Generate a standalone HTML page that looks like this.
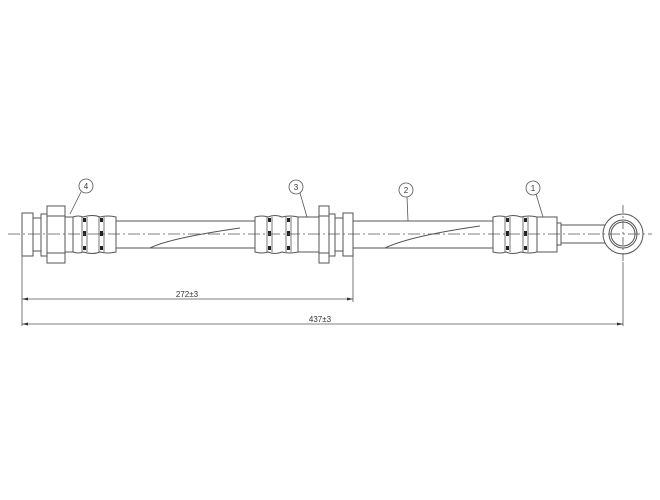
<!DOCTYPE html>
<html><head><style>html,body{margin:0;padding:0;background:#fff}svg{display:block}</style></head>
<body>
<svg width="660" height="500" viewBox="0 0 660 500" xmlns="http://www.w3.org/2000/svg" font-family="Liberation Sans, sans-serif">
<g fill="#fff" stroke="#555" stroke-width="1">
<!-- hose -->
<rect x="116" y="221" width="140" height="27"/>
<rect x="353" y="221" width="141" height="27"/>
<path d="M150 248 Q170 238 240 228" fill="none"/>
<path d="M385 248 Q410 236 480 226" fill="none"/>
<!-- left fitting -->
<rect x="22" y="213" width="11" height="43"/>
<rect x="33" y="218" width="8" height="33"/>
<rect x="41" y="214" width="6" height="42"/>
<rect x="47" y="206" width="18" height="57"/>
<line x1="47" y1="216" x2="65" y2="216"/><line x1="47" y1="253" x2="65" y2="253"/>
<rect x="65" y="217" width="8" height="35"/>
<path d="M73 217 Q78 215 83 217 Q93 214 100 217 Q108 215 116 217 L116 252 Q108 254 100 252 Q93 255 83 252 Q78 254 73 252 Z"/>
<!-- middle fitting -->
<path d="M255 217 Q262 215 268 217 Q275 214 282 217 Q290 215 298 217 L298 252 Q290 254 282 252 Q275 255 268 252 Q262 254 255 252 Z"/>
<rect x="298" y="217" width="21" height="35"/>
<rect x="319" y="206" width="10" height="57"/>
<line x1="319" y1="216" x2="329" y2="216"/><line x1="319" y1="253" x2="329" y2="253"/>
<rect x="329" y="214" width="6" height="42"/>
<rect x="335" y="218" width="8" height="33"/>
<rect x="343" y="213" width="10" height="43"/>
<!-- right fitting -->
<path d="M493 217 Q500 215 506 217 Q513 214 521 217 Q529 215 537 217 L537 252 Q529 254 521 252 Q513 255 506 252 Q500 254 493 252 Z"/>
<rect x="537" y="217" width="20" height="35"/>
<rect x="557" y="223" width="4" height="22"/>
<rect x="561" y="225" width="44" height="18"/>
<circle cx="623" cy="234" r="20"/>
<circle cx="623" cy="234" r="14"/>
<circle cx="623" cy="234" r="12"/>
</g>
<!-- groove bands -->
<g fill="#222">
<rect x="83" y="218" width="3" height="4"/><rect x="83" y="231" width="3" height="5"/><rect x="83" y="246" width="3" height="4"/>
<rect x="100" y="218" width="3" height="4"/><rect x="100" y="231" width="3" height="5"/><rect x="100" y="246" width="3" height="4"/>
<rect x="268" y="218" width="3" height="4"/><rect x="268" y="231" width="3" height="5"/><rect x="268" y="246" width="3" height="4"/>
<rect x="287" y="218" width="3" height="4"/><rect x="287" y="231" width="3" height="5"/><rect x="287" y="246" width="3" height="4"/>
<rect x="506" y="218" width="3" height="4"/><rect x="506" y="231" width="3" height="5"/><rect x="506" y="246" width="3" height="4"/>
<rect x="524" y="218" width="3" height="4"/><rect x="524" y="231" width="3" height="5"/><rect x="524" y="246" width="3" height="4"/>
</g>
<g stroke="#555" fill="none" stroke-width="0.8">
<line x1="82" y1="217" x2="82" y2="252"/><line x1="87" y1="217" x2="87" y2="252"/>
<line x1="99" y1="217" x2="99" y2="252"/><line x1="104" y1="217" x2="104" y2="252"/>
<line x1="267" y1="217" x2="267" y2="252"/><line x1="272" y1="217" x2="272" y2="252"/>
<line x1="286" y1="217" x2="286" y2="252"/><line x1="291" y1="217" x2="291" y2="252"/>
<line x1="505" y1="217" x2="505" y2="252"/><line x1="510" y1="217" x2="510" y2="252"/>
<line x1="523" y1="217" x2="523" y2="252"/><line x1="528" y1="217" x2="528" y2="252"/>
<!-- centerlines -->
<line x1="8" y1="234" x2="652" y2="234" stroke-dasharray="12,3,2,3"/>
<line x1="623" y1="205" x2="623" y2="262" stroke-dasharray="8,3,2,3"/>
<!-- extension/dimension lines -->
<line x1="22" y1="256" x2="22" y2="326"/>
<line x1="353" y1="256" x2="353" y2="302"/>
<line x1="623" y1="262" x2="623" y2="326"/>
<line x1="22" y1="299" x2="353" y2="299"/>
<line x1="22" y1="324" x2="623" y2="324"/>
<!-- leaders -->
<line x1="81" y1="192" x2="70" y2="214"/>
<line x1="300" y1="193" x2="307" y2="217"/>
<line x1="407" y1="197" x2="408" y2="221"/>
<line x1="536" y1="194" x2="543" y2="217"/>
<circle cx="86" cy="186" r="7"/>
<circle cx="296" cy="187" r="7"/>
<circle cx="406" cy="190" r="7"/>
<circle cx="533" cy="188" r="7"/>
</g>
<g fill="#333">
<path d="M22 299 l6 -1.5 v3 z"/><path d="M353 299 l-6 -1.5 v3 z"/>
<path d="M22 324 l6 -1.5 v3 z"/><path d="M623 324 l-6 -1.5 v3 z"/>
</g>
<g font-size="8" fill="#333" text-anchor="middle">
<text x="86" y="189">4</text><text x="296" y="190">3</text><text x="406" y="193">2</text><text x="533" y="191">1</text>
<text x="187" y="297">272±3</text>
<text x="320" y="322">437±3</text>
</g>
</svg>
</body></html>
